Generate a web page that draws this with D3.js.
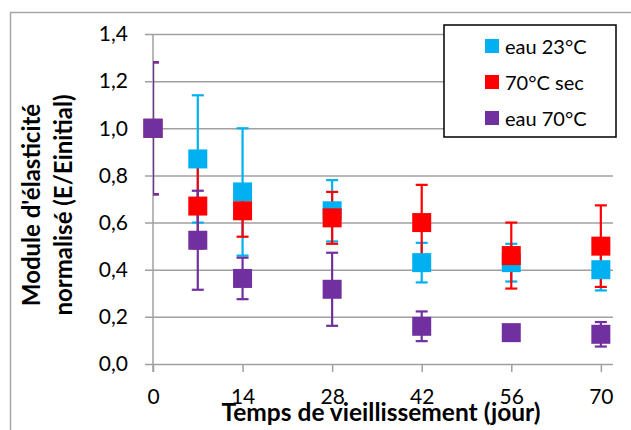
<!DOCTYPE html>
<html>
<head>
<meta charset="utf-8">
<script src="https://cdn.jsdelivr.net/npm/d3@7"></script>
<style>
  body { margin: 0; background: #fff; }
  svg text { font-family: Lato, "Open Sans", sans-serif; fill: #000; }
</style>
</head>
<body>
<div id="chart"></div>
<script>
// days of ageing
const days = [0, 7, 14, 28, 42, 56, 70];
const xTicks = [0, 14, 28, 42, 56, 70];
const yTicks = [0, 0.2, 0.4, 0.6, 0.8, 1.0, 1.2, 1.4];

const seriesNames = ["eau 23°C", "70°C sec", "eau 70°C"];
const seriesColors = ["#00b0f0", "#ff0000", "#7030a0"];

const eau23 = [1.0, 0.87, 0.73, 0.65, 0.43, 0.43, 0.40];
const eau23Err = [0.28, 0.27, 0.27, 0.13, 0.084, 0.08, 0.088];
const sec70 = [1.0, 0.67, 0.65, 0.62, 0.60, 0.46, 0.50];
const sec70Err = [0.28, 0.18, 0.11, 0.11, 0.16, 0.14, 0.173];
const eau70 = [1.0, 0.525, 0.363, 0.317, 0.16, 0.133, 0.126];
const eau70Err = [0.28, 0.21, 0.088, 0.155, 0.063, 0.02, 0.052];

const values = [eau23, sec70, eau70];
const errors = [eau23Err, sec70Err, eau70Err];

const width = 631, height = 430;
const margin = { left: 153, right: 18, top: 34, bottom: 66 };

const svg = d3.select("#chart").append("svg")
  .attr("width", width)
  .attr("height", height);

// outer chart border (only top and left visible)
svg.append("rect")
  .attr("x", 10.5).attr("y", 12.5)
  .attr("width", 660).attr("height", 460)
  .attr("fill", "none")
  .attr("stroke", "#a6a6a6")
  .attr("stroke-width", 1.5);

const x = d3.scaleLinear().domain([0, 71.9]).range([margin.left, width - margin.right]);
const y = d3.scaleLinear().domain([0, 1.4]).range([height - margin.bottom, margin.top]);

svg.append("defs").append("clipPath").attr("id", "plotclip")
  .append("rect")
  .attr("x", margin.left).attr("y", margin.top - 10)
  .attr("width", width - margin.right - margin.left)
  .attr("height", height - margin.bottom - margin.top + 20);

// horizontal gridlines + y axis labels
const yAxis = d3.axisLeft(y)
  .tickValues(yTicks)
  .tickSize(-(width - margin.right - margin.left))
  .tickPadding(25)
  .tickFormat(d => d3.format(".1f")(d).replace(".", ","));

const gy = svg.append("g")
  .attr("transform", "translate(" + margin.left + ",0)")
  .call(yAxis);
gy.select(".domain").remove();
gy.selectAll(".tick line")
  .attr("x1", -8)
  .attr("stroke", "#a0a0a0")
  .attr("stroke-width", 1.5);
gy.selectAll(".tick text")
  .style("font-size", "21px");

// vertical axis line
svg.append("line")
  .attr("x1", margin.left).attr("x2", margin.left)
  .attr("y1", y(1.4)).attr("y2", y(0) + 8)
  .attr("stroke", "#a0a0a0")
  .attr("stroke-width", 1.5);

// x axis
const xAxis = d3.axisBottom(x)
  .tickValues(xTicks)
  .tickSize(8)
  .tickPadding(17)
  .tickFormat(d3.format("d"));
const gx = svg.append("g")
  .attr("transform", "translate(0," + y(0) + ")")
  .call(xAxis);
gx.select(".domain").remove();
gx.selectAll(".tick line")
  .attr("stroke", "#a0a0a0")
  .attr("stroke-width", 1.5);
gx.selectAll(".tick text")
  .style("font-size", "21px");

// error bars first, all series
const capHalf = 6;
const plot = svg.append("g");
const bars = plot.append("g").attr("clip-path", "url(#plotclip)");
values.forEach((vals, s) => {
  const g = bars.append("g").attr("stroke", seriesColors[s]).attr("stroke-width", 2.2);
  vals.forEach((v, i) => {
    const e = errors[s][i];
    const cx = x(days[i]);
    g.append("line").attr("x1", cx).attr("x2", cx).attr("y1", y(v + e)).attr("y2", y(v - e));
    g.append("line").attr("x1", cx - capHalf).attr("x2", cx + capHalf).attr("y1", y(v + e)).attr("y2", y(v + e));
    g.append("line").attr("x1", cx - capHalf).attr("x2", cx + capHalf).attr("y1", y(v - e)).attr("y2", y(v - e));
  });
});

// square markers
const ms = 19;
values.forEach((vals, s) => {
  plot.append("g").selectAll("rect")
    .data(vals)
    .enter()
    .append("rect")
    .attr("x", (d, i) => x(days[i]) - ms / 2)
    .attr("y", d => y(d) - ms / 2)
    .attr("width", ms)
    .attr("height", ms)
    .attr("fill", seriesColors[s]);
});

// legend
const leg = svg.append("g");
leg.append("rect")
  .attr("x", 444).attr("y", 25)
  .attr("width", 172).attr("height", 112)
  .attr("fill", "#fff")
  .attr("stroke", "#000")
  .attr("stroke-width", 1.5);
seriesNames.forEach((name, s) => {
  const cy = 46 + s * 36;
  leg.append("rect")
    .attr("x", 485).attr("y", cy - 7)
    .attr("width", 14).attr("height", 14)
    .attr("fill", seriesColors[s]);
  leg.append("text")
    .attr("x", 505).attr("y", cy)
    .attr("dominant-baseline", "central")
    .style("font-size", "20px")
    .text(name);
});

// axis titles
svg.append("text")
  .attr("x", 381).attr("y", 421)
  .attr("text-anchor", "middle")
  .style("font-size", "24.5px")
  .style("font-weight", "bold")
  .text("Temps de vieillissement (jour)");

const yt = svg.append("text")
  .attr("transform", "translate(40,205) rotate(-90)")
  .attr("text-anchor", "middle")
  .style("font-size", "24px")
  .style("font-weight", "bold");
yt.append("tspan").attr("x", 0).attr("dy", 0).text("Module d'élasticité");
yt.append("tspan").attr("x", 0).attr("dy", 32).text("normalisé (E/Einitial)");
</script>
</body>
</html>
